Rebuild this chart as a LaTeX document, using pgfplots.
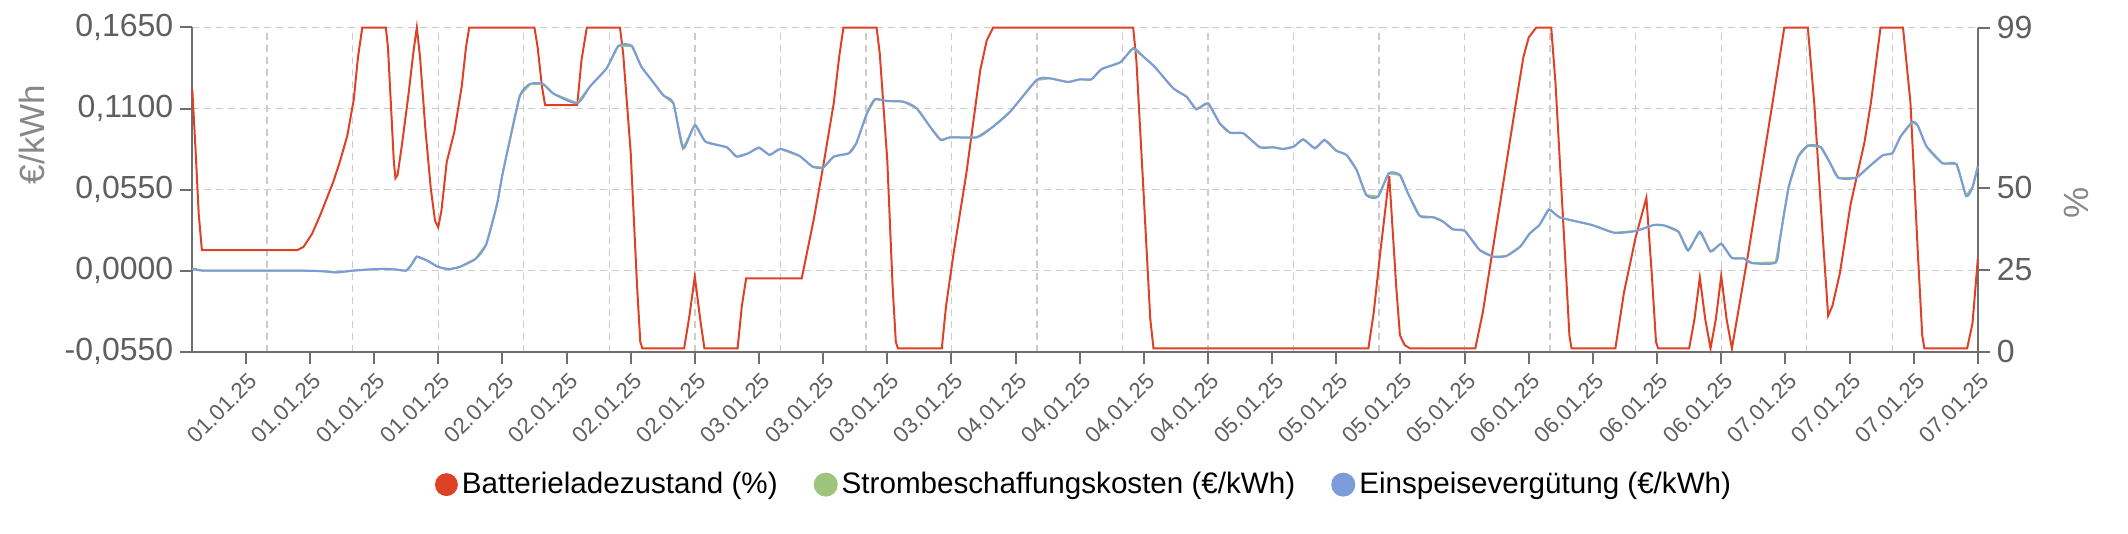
\documentclass[border=0pt]{standalone}
\usepackage{fontspec}
\setmainfont{Liberation Sans}
\usepackage{pgfplots}
\usepackage{pgfplotstable}
\pgfplotsset{compat=1.18}
\definecolor{cred}{RGB}{221,66,38}
\definecolor{cgreen}{RGB}{157,196,122}
\definecolor{cblue}{RGB}{123,155,219}
\definecolor{caxis}{RGB}{110,110,110}
\definecolor{ctext}{RGB}{95,95,95}
\definecolor{clabel}{RGB}{136,136,136}
\definecolor{cgrid}{RGB}{204,204,204}

\pgfplotstableread{
h p
0 80
0.3 62
0.6 42
0.9 31
9.8 31
10.4 32
11.2 36
12 42
13.2 52
13.8 58
14.5 66
15.1 77
15.5 90
15.9 99
18.1 99
18.3 93
18.6 74
18.85 58
19.0 53
19.2 54
19.6 63
20.2 78
20.7 92
21.0 99
21.3 90
21.8 68
22.3 50
22.7 40
23.0 38
23.3 43
23.8 58
24.5 67
25.2 81
25.6 93
25.9 99
32.0 99
32.3 93
32.7 81
33.0 75.3
36.0 75.3
36.4 89
36.9 99
40.0 99
40.3 91
41.0 61
41.6 20
41.9 3
42.1 1
46.0 1
46.5 11
47.0 23
47.5 10
47.9 1
51.0 1
51.4 14
51.8 22.4
57.0 22.4
58.1 40
59.0 56.5
60.0 76
60.5 90
60.9 99
64.0 99
64.3 91
65.0 58.5
65.5 20
65.8 3
66.0 1
70.1 1
70.5 14
71.2 30
72.4 54.5
73.7 86
74.3 95
74.9 99
88.0 99
88.3 89
88.95 50
89.6 10
89.9 1
110.0 1
110.5 12
111.1 30
111.95 53.7
112.6 20
112.95 5
113.4 2
113.9 1
120.0 1
120.7 12
122.3 45
123.8 76
124.5 90
125.0 96
125.7 99
127.1 99
127.5 82
128.3 35
128.8 5
129.0 1
133.1 1
133.9 18
135.0 35
136.0 47
136.5 24
136.9 3
137.1 1
140.0 1
140.5 10
141.0 22.7
141.5 10
142.0 1
142.5 10
143.0 23.2
143.5 10
144.0 1
145.5 29.5
147.8 76
148.9 99
151.1 99
151.7 76
152.5 35
153.0 11
153.4 14
154.1 24
155.1 45
156.4 64
157.0 76
157.9 99
160.0 99
160.7 76
161.4 29.5
161.8 5
162.0 1
166.0 1
166.5 8.6
167.0 28.4
}\battdata

\pgfplotstableread{
h v
0 0.0014
1 0.0
5 0.0
10 0.0
12 -0.0003
13.5 -0.0012
15 0.0
17 0.001
18 0.0012
19 0.0008
20 0.0
20.5 0.004
21 0.0095
22 0.0067
23 0.0025
24 0.001
25 0.0025
26.5 0.008
27.5 0.018
28.5 0.045
29 0.065
29.7 0.0887
30.65 0.119
31.6 0.1267
32.8 0.1267
33.8 0.120
36 0.1136
37.2 0.125
38.75 0.1373
39.85 0.1525
41.1 0.1525
42.0 0.1384
43.1 0.128
44.05 0.119
45 0.1136
45.9 0.083
47 0.0988
48 0.0875
50 0.0837
50.9 0.0774
52 0.0796
53 0.0835
54 0.0785
55 0.0826
56.8 0.0778
58 0.0706
59 0.0699
60 0.0774
61.4 0.0796
62.1 0.0864
63.1 0.1068
63.85 0.1163
65 0.1151
66.5 0.1147
67.75 0.1102
69 0.0977
70 0.0887
70.9 0.0905
73.4 0.0905
74.9 0.0977
76.5 0.1079
78.97 0.1294
80.2 0.1305
81.9 0.128
83 0.1298
84.1 0.1298
85.05 0.1368
86.8 0.1414
88 0.1509
88.95 0.1452
90.0 0.1384
91.75 0.1237
93 0.118
93.9 0.1095
95 0.1136
96.1 0.0999
97.05 0.0936
98.3 0.0932
99.85 0.0837
101.1 0.0837
102 0.0826
103 0.0841
103.9 0.0891
105 0.083
105.9 0.0887
107 0.0814
107.95 0.0785
108.9 0.0683
109.8 0.0513
110.9 0.0502
111.9 0.066
112.95 0.0649
113.7 0.0525
114.8 0.0371
116.1 0.0362
117 0.0332
117.9 0.028
119 0.0271
120.4 0.014
121.7 0.0095
122.9 0.0099
124.2 0.0163
125.1 0.0253
126 0.031
126.9 0.0415
127.9 0.0361
130.9 0.031
133 0.0257
135 0.0269
136.7 0.031
137.7 0.0306
139 0.0264
139.9 0.0137
141 0.0264
142 0.013
143 0.0183
144 0.0086
145.1 0.0083
145.9 0.0051
148.1 0.0056
148.5 0.0218
149.3 0.0565
150.2 0.0774
151.1 0.0848
152.3 0.0839
153.2 0.0728
153.95 0.063
155.6 0.063
156.8 0.0704
158.1 0.0783
159 0.0797
159.8 0.0913
160.9 0.101
161.4 0.0982
162.2 0.0843
163.7 0.0728
165 0.0723
165.9 0.0508
166.5 0.0565
167 0.0709
}\feeddata

\begin{document}
\begin{tikzpicture}
\pgfplotsset{
  common/.style={
    set layers,
    at={(0pt,0pt)}, anchor=south west, scale only axis,
    width=892.75pt, height=162.1pt,
    xmin=0, xmax=167,
    axis line style={caxis, line width=1pt},
    tick style={caxis, line width=1pt},
    major tick length=6pt,
    tick align=outside,
    ticklabel style={ctext},
    clip=false,
  }
}
\begin{axis}[common,
  axis y line*=right, axis x line=none,
  ymin=0, ymax=99,
  ytick={0,25,50,99}, yticklabels={0,25,50,99},
  yticklabel style={font=\fontsize{16}{19}\selectfont},
  ylabel={\%},
  ylabel style={at={(axis description cs:1.0554,0.46)}, anchor=center, font=\fontsize{17.5}{20}\selectfont, color=clabel},
]
\addplot[cred, line width=1pt] table[x=h,y=p]{\battdata};
\end{axis}
\begin{axis}[common,
  axis y line*=left, axis x line*=bottom,
  ymin=-0.055, ymax=0.165,
  ytick={-0.055,0,0.055,0.11,0.165},
  yticklabels={{-0,0550},{0,0000},{0,0550},{0,1100},{0,1650}},
  yticklabel style={font=\fontsize{16}{19}\selectfont},
  xtick={5,11,...,167},
  xticklabels={01.01.25,01.01.25,01.01.25,01.01.25,02.01.25,02.01.25,02.01.25,02.01.25,03.01.25,03.01.25,03.01.25,03.01.25,04.01.25,04.01.25,04.01.25,04.01.25,05.01.25,05.01.25,05.01.25,05.01.25,06.01.25,06.01.25,06.01.25,06.01.25,07.01.25,07.01.25,07.01.25,07.01.25},
  xticklabel style={font=\fontsize{11.2}{13}\selectfont, inner sep=0pt, xshift=0.8pt, yshift=-3.9pt, rotate=45, anchor=north east},
  minor xtick={7,15,...,167},
  minor tick length=0pt,
  xminorgrids=true, xmajorgrids=false, ymajorgrids=true,
  major grid style={cgrid, line width=0.7pt, dash pattern=on 3.5pt off 2.5pt},
  minor grid style={cgrid, line width=0.7pt, dash pattern=on 3.5pt off 2.5pt},
  ylabel={€/kWh},
  ylabel style={at={(axis description cs:-0.0896,0.67)}, anchor=center, font=\fontsize{17.5}{20}\selectfont, color=clabel},
  legend style={at={(0.5,-0.41)}, anchor=center, draw=none, fill=none,
    legend columns=3, font=\fontsize{14.8}{17}\selectfont,
    /tikz/every even column/.append style={column sep=16pt}},
  legend cell align=left,
  legend image code/.code={\fill[#1] (0pt,0pt) circle (5.5pt);},
]
\addlegendimage{cred}
\addlegendentry{Batterieladezustand (\%)}
\addplot[cgreen, line width=1pt] table[x=h,y=v]{\feeddata};
\addlegendentry{Strombeschaffungskosten (€/kWh)}
\addplot[cblue, line width=1pt, smooth, tension=0.4] table[x=h,y=v]{\feeddata};
\addlegendentry{Einspeisevergütung (€/kWh)}
\end{axis}
\pgfresetboundingbox
\path[use as bounding box] (-96.15pt,-91.15pt) rectangle (967.85pt,175.85pt);
\end{tikzpicture}
\end{document}
